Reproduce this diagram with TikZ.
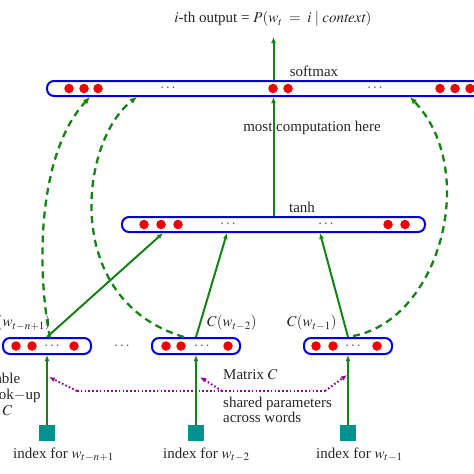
\documentclass[tikz,border=0pt]{standalone}
\usepackage{mathptmx}
\usepackage{fontspec}
\setmainfont{Liberation Serif}
\usetikzlibrary{arrows.meta}
\definecolor{lblue}{RGB}{0,0,225}
\definecolor{dred}{RGB}{240,0,0}
\definecolor{gline}{RGB}{20,130,20}
\definecolor{sqc}{RGB}{0,145,145}
\definecolor{pdot}{RGB}{150,0,150}
\tikzset{
  layer/.style={draw=lblue, line width=2pt, rounded corners=7pt, minimum height=15pt, inner sep=0pt, rectangle},
  unit/.style={circle, fill=dred, minimum size=9.5pt, inner sep=0pt},
  ell/.style={inner sep=0pt, text=black!70},
  idx/.style={fill=sqc, minimum size=16pt, inner sep=0pt, rectangle},
  garrow/.style={draw=gline, line width=2pt, -{Latex[length=6pt,width=5pt]}},
  gdash/.style={draw=gline, line width=2.3pt, dash pattern=on 7pt off 5pt, -{Latex[length=7pt,width=6pt]}},
  pdotted/.style={draw=pdot, line width=2pt, dash pattern=on 1.6pt off 2.2pt},
  parrow/.style={pdotted, -{Latex[length=6pt,width=5pt]}},
  lbl/.style={inner sep=0pt, text=black!85}
}
\begin{document}
\begin{tikzpicture}[x=1pt,y=-1pt, font=\fontsize{15}{17}\selectfont]
\useasboundingbox (0,0) rectangle (474,474);
\clip (0,0) rectangle (474,474);
% layers
\node[layer, minimum width=445pt] (soft) at (269.5,88.5) {};
\node[layer, minimum width=303pt] (tanh) at (273.5,224.5) {};
\node[layer, minimum width=88pt, minimum height=16pt] (b1) at (47,346) {};
\node[layer, minimum width=88pt, minimum height=16pt] (b2) at (196,346) {};
\node[layer, minimum width=88pt, minimum height=16pt] (b3) at (348,346) {};
% units softmax
\foreach \x [count=\i] in {69,84,98,273,288,440,455,470} \node[unit] (su\i) at (\x,88.5) {};
\node[ell] (sd1) at (168,88.5) {$\cdots$};
\node[ell] (sd2) at (375,88.5) {$\cdots$};
% units tanh
\foreach \x [count=\i] in {144,161,178,388,405} \node[unit] (tu\i) at (\x,224.5) {};
\node[ell] (td1) at (228,224.5) {$\cdots$};
\node[ell] (td2) at (326,224.5) {$\cdots$};
% units bottom
\foreach \x [count=\i] in {16,32,74} \node[unit] (au\i) at (\x,346) {};
\node[ell] (ad) at (52,346) {$\cdots$};
\foreach \x [count=\i] in {166,181,228} \node[unit] (bu\i) at (\x,346) {};
\node[ell] (bd) at (202,346) {$\cdots$};
\foreach \x [count=\i] in {316,333,377} \node[unit] (cu\i) at (\x,346) {};
\node[ell] (cd) at (353,346) {$\cdots$};
\node[ell] (mid) at (122,346) {$\cdots$};
% index squares
\node[idx] (s1) at (47,433) {};
\node[idx] (s2) at (196,433) {};
\node[idx] (s3) at (348,433) {};
% texts
\node[lbl] (title) at (273,19) {$i$-th output = $P(w_t \;=\; i \mid \mathit{context})$};
\node[lbl] (tsoft) at (314,71) {softmax};
\node[lbl] (tmost) at (312,128) {most computation here};
\node[lbl] (ttanh) at (302,207) {tanh};
\node[lbl, anchor=east] (c1) at (51,323) {$C(w_{t-n+1})$};
\node[lbl, anchor=west] (c2) at (207,323) {$C(w_{t-2})$};
\node[lbl, anchor=west] (c3) at (287,323) {$C(w_{t-1})$};
\node[lbl, anchor=west] (i1) at (13,455) {index for $w_{t-n+1}$};
\node[lbl, anchor=west] (i2) at (163,455) {index for $w_{t-2}$};
\node[lbl, anchor=west] (i3) at (316,455) {index for $w_{t-1}$};
\node[lbl, anchor=west] (mat) at (223,375) {Matrix $C$};
\node[lbl, anchor=west, align=left] (shared) at (223,410) {shared parameters\\[-2pt]across words};
\node[lbl, anchor=west, align=left] (tlook) at (-13,394) {Table\\[-1pt]look$-$up\\[-1pt]in $C$};
% coordinates
\coordinate (out) at (273.5,37);
\coordinate (ta1) at (163,233);
\coordinate (ta2) at (227,233);
\coordinate (ta3) at (320,233);
\coordinate (sa1) at (90,97);
\coordinate (sa2) at (137,97);
\coordinate (sa3) at (410,97);
\coordinate (p1) at (77,391);
\coordinate (p2) at (222,391);
\coordinate (p3) at (325,391);
\coordinate (q1) at (49,377);
\coordinate (q2) at (200,377);
\coordinate (q3) at (347,375);
% connectors
\draw[garrow] (s1) -- (b1);
\draw[garrow] (s2) -- (b2);
\draw[garrow] (s3) -- (b3);
\draw[garrow] (b1.north) -- (ta1);
\draw[garrow] (b2.north) -- (ta2);
\draw[garrow] (b3.north) -- (ta3);
\draw[garrow] (tanh.north) -- (tanh.north |- soft.south);
\draw[garrow] (soft.north -| tanh.north) -- (out);
\draw[gdash] (50,338) .. controls (35,260) and (40,150) .. (sa1);
\draw[gdash] (184,337) .. controls (60,300) and (80,140) .. (sa2);
\draw[gdash] (353,336) .. controls (440,320) and (480,170) .. (sa3);
\draw[pdotted] (p1) -- (p3);
\draw[parrow] (p1) -- (q1);
\draw[parrow] (p2) -- (q2);
\draw[parrow] (p3) -- (q3);
\end{tikzpicture}
\end{document}
